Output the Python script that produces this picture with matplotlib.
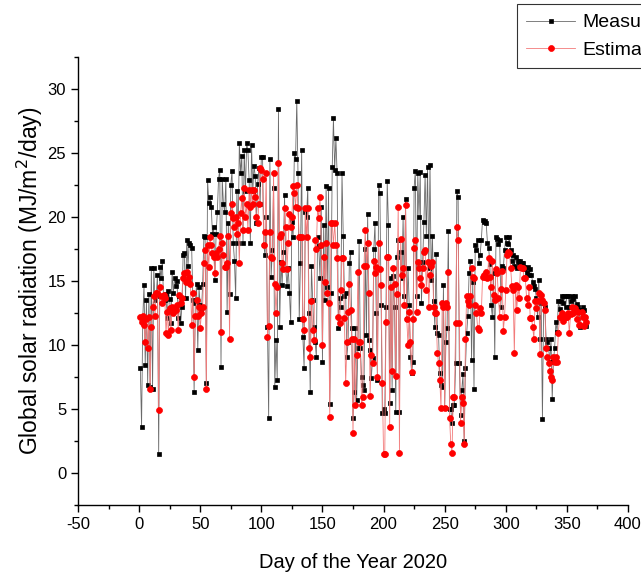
import matplotlib
matplotlib.use("Agg")
import matplotlib.pyplot as plt
from matplotlib.ticker import MultipleLocator
import numpy as np

plt.rcParams['font.family'] = ['Liberation Sans', 'DejaVu Sans']
plt.rcParams['axes.unicode_minus'] = False

measured = [
    8.2, 3.6, 12.1, 14.7, 8.4, 13.5, 6.9, 14.0, 6.7, 16.0,
    6.6, 16.0, 13.5, 13.8, 15.5, 1.5, 16.1, 15.2, 16.6, 13.6,
    13.5, 14.0, 12.1, 14.2, 13.6, 11.7, 15.7, 14.1, 15.2, 14.6,
    15.0, 12.1, 13.8, 11.7, 13.0, 17.0, 17.2, 13.7, 18.2, 16.2,
    18.0, 17.8, 17.6, 13.5, 6.3, 13.3, 14.8, 9.6, 14.5, 13.1,
    12.6, 14.8, 18.5, 18.4, 7.0, 22.9, 21.1, 21.6, 20.8, 18.7,
    19.2, 15.1, 18.7, 20.4, 23.0, 23.7, 8.3, 23.0, 21.0, 20.4,
    23.0, 12.6, 19.5, 14.0, 22.5, 23.6, 18.0, 16.6, 13.7, 22.0,
    18.0, 25.8, 23.4, 24.8, 18.0, 25.2, 22.0, 25.8, 25.2, 22.9,
    18.0, 25.6, 22.0, 24.0, 23.2, 19.5, 22.6, 23.8, 21.0, 24.7,
    24.7, 17.8, 17.0, 20.0, 11.4, 4.3, 24.5, 15.3, 17.4, 22.3,
    6.7, 10.4, 7.3, 28.4, 11.4, 16.5, 14.7, 17.3, 21.7, 15.9,
    14.6, 16.0, 14.1, 11.8, 19.6, 18.4, 25.0, 24.5, 29.1, 23.4,
    12.0, 16.4, 25.2, 10.6, 8.2, 20.4, 20.0, 22.3, 12.5, 6.3,
    16.2, 13.5, 11.4, 10.2, 9.1, 18.4, 17.7, 15.2, 20.8, 8.7,
    19.4, 13.5, 22.4, 14.5, 22.3, 5.4, 14.1, 23.9, 27.7, 23.7,
    26.2, 23.4, 11.3, 13.7, 13.0, 23.4, 18.5, 13.8, 14.1, 9.1,
    10.2, 16.4, 17.3, 11.3, 4.3, 6.3, 11.3, 5.7, 9.8, 18.1,
    9.8, 7.5, 6.9, 6.5, 17.5, 10.8, 20.2, 10.4, 9.6, 7.4,
    9.0, 17.5, 19.5, 12.5, 7.3, 22.5, 21.9, 13.1, 4.7, 5.0,
    4.7, 13.0, 22.8, 19.4, 5.5, 15.2, 6.5, 15.4, 13.0, 4.8,
    16.9, 18.2, 4.8, 17.3, 15.2, 20.0, 13.8, 21.4, 12.0, 16.0,
    13.1, 9.1, 7.8, 8.7, 22.3, 23.6, 13.8, 23.4, 20.0, 23.5,
    13.3, 16.5, 19.6, 23.3, 18.5, 23.9, 16.0, 24.1, 15.1, 18.5,
    13.4, 11.4, 17.1, 10.9, 10.8, 7.8, 6.9, 6.7, 14.7, 5.1,
    10.2, 11.3, 18.9, 5.0, 5.0, 3.9, 5.3, 5.3, 8.6, 22.0,
    21.6, 8.6, 4.5, 6.5, 7.7, 2.5, 8.2, 10.9, 12.3, 15.6,
    16.6, 8.8, 14.9, 6.6, 17.8, 17.4, 18.2, 16.4, 17.0, 18.2,
    19.8, 19.6, 19.7, 19.5, 18.0, 17.6, 16.3, 13.1, 12.2, 15.6,
    9.1, 18.4, 18.3, 17.9, 18.2, 13.0, 16.2, 16.0, 17.4, 18.4,
    18.0, 17.9, 18.4, 17.4, 16.6, 17.0, 16.2, 16.9, 16.0, 16.6,
    16.4, 16.6, 16.4, 16.4, 16.1, 15.9, 15.6, 16.1, 15.5, 15.9,
    15.5, 14.9, 14.6, 14.4, 13.7, 12.2, 15.1, 10.5, 13.3, 4.2,
    13.3, 13.0, 10.5, 10.2, 9.8, 8.7, 10.5, 5.8, 8.7, 9.8,
    11.8, 11.0, 13.4, 12.8, 13.4, 13.8, 13.3, 13.8, 13.0, 13.8,
    13.8, 13.0, 13.4, 13.8, 13.6, 12.6, 13.8, 13.2, 13.0, 12.7,
    11.4, 12.7, 13.0, 12.7, 12.2, 11.5,
]

estimated = [
    12.2, 11.8, 12.3, 11.6, 10.2, 12.0, 9.8, 12.2, 6.6, 11.4,
    13.0, 13.8, 12.3, 14.1, 14.1, 4.9, 14.5, 13.8, 13.3, 13.9,
    13.7, 10.9, 12.6, 10.8, 12.9, 11.2, 13.0, 12.5, 12.8, 12.7,
    13.1, 11.2, 13.9, 13.3, 13.7, 15.2, 15.6, 14.9, 15.7, 15.0,
    15.3, 14.8, 11.6, 14.1, 7.5, 12.3, 13.5, 12.3, 13.0, 11.3,
    12.5, 13.0, 16.4, 17.4, 6.6, 17.8, 16.1, 18.4, 17.8, 17.2,
    16.9, 15.6, 17.2, 16.9, 17.5, 18.5, 11.0, 18.0, 17.0, 16.1,
    16.1, 16.4, 18.5, 10.5, 20.3, 21.0, 19.9, 19.2, 20.0, 18.7,
    19.5, 16.4, 20.3, 21.5, 19.0, 22.3, 20.0, 21.0, 19.0, 22.1,
    20.8, 22.1, 21.0, 22.1, 21.6, 20.0, 19.5, 21.0, 23.8, 23.7,
    23.0, 17.8, 18.8, 23.4, 10.6, 11.5, 18.8, 16.9, 16.8, 23.4,
    14.8, 12.5, 14.5, 24.2, 18.4, 18.7, 16.4, 15.9, 20.7, 19.2,
    15.9, 18.0, 20.2, 19.2, 20.0, 22.4, 21.9, 20.8, 22.5, 20.7,
    18.4, 18.4, 18.4, 12.0, 11.2, 20.7, 18.4, 20.7, 9.8, 9.1,
    13.4, 11.2, 10.4, 18.2, 17.5, 20.7, 19.9, 21.6, 17.8, 10.0,
    16.9, 14.9, 18.0, 14.1, 13.3, 4.4, 19.5, 19.5, 17.8, 19.5,
    17.8, 16.8, 12.2, 11.7, 14.3, 16.8, 16.8, 12.1, 7.0, 10.2,
    12.6, 14.8, 12.7, 10.5, 3.1, 10.5, 5.3, 9.2, 15.7, 10.2,
    10.2, 5.3, 5.9, 16.2, 19.0, 16.2, 18.0, 14.1, 6.0, 9.2,
    8.6, 16.6, 15.6, 16.1, 7.5, 18.0, 15.9, 14.7, 7.0, 1.5,
    1.5, 11.8, 16.9, 16.9, 3.6, 14.5, 8.0, 16.0, 14.8, 7.6,
    14.0, 20.8, 1.6, 18.3, 15.5, 16.0, 13.1, 20.9, 12.0, 10.0,
    12.6, 10.2, 7.9, 12.0, 17.6, 18.2, 12.6, 16.5, 16.0, 15.2,
    14.7, 16.0, 17.3, 17.4, 14.3, 16.5, 13.0, 15.5, 16.2, 16.5,
    13.0, 12.5, 12.5, 9.4, 8.6, 7.3, 5.1, 13.3, 13.0, 5.1,
    13.3, 13.0, 15.7, 4.3, 2.3, 1.6, 5.9, 5.9, 11.7, 19.2,
    18.2, 11.7, 3.9, 5.9, 5.5, 2.3, 10.5, 13.8, 13.4, 13.1,
    13.8, 16.0, 15.3, 15.2, 13.1, 12.5, 11.3, 11.2, 12.9, 12.5,
    15.3, 15.5, 15.3, 15.7, 15.2, 16.8, 15.3, 14.5, 16.6, 13.9,
    13.5, 15.9, 15.6, 13.7, 12.2, 14.4, 15.8, 11.1, 12.2, 14.3,
    17.0, 17.3, 17.2, 16.0, 14.6, 14.3, 9.4, 14.7, 12.7, 14.5,
    13.7, 16.1, 16.0, 16.0, 15.2, 15.2, 13.7, 13.1, 14.5, 12.1,
    12.1, 11.4, 10.5, 13.4, 12.9, 13.4, 14.1, 9.3, 13.9, 13.5,
    13.3, 12.7, 9.8, 9.1, 8.6, 8.0, 7.5, 7.3, 9.1, 8.7,
    9.1, 8.7, 10.9, 12.2, 12.2, 12.5, 11.9, 12.2, 12.2, 12.2,
    12.5, 10.9, 12.4, 13.0, 12.5, 12.9, 12.9, 12.0, 12.6, 11.6,
    11.6, 12.6, 12.2, 11.5, 12.2, 11.8,
]

days_m = np.arange(1, len(measured) + 1)
days_e = np.arange(1, len(estimated) + 1)

fig = plt.figure(figsize=(6.41, 5.76), dpi=100)
ax = fig.add_axes([0.1217, 0.1233, 0.8580, 0.7777])

ax.plot(days_m, measured, color='#6a6a6a', lw=0.6, marker='s', ms=3.4,
        mfc='black', mec='black', mew=0.5, label='Measured', zorder=2)
ax.plot(days_e, estimated, color='#f27a7a', lw=0.6, marker='o', ms=4.3,
        mfc='red', mec='red', mew=0.5, label='Estimated', zorder=3)

ax.set_xlim(-50, 400)
ax.set_ylim(-2.5, 32.5)
ax.xaxis.set_major_locator(MultipleLocator(50))
ax.xaxis.set_minor_locator(MultipleLocator(25))
ax.yaxis.set_major_locator(MultipleLocator(5))
ax.yaxis.set_minor_locator(MultipleLocator(2.5))
ax.tick_params(which='major', direction='out', length=5, width=1, labelsize=12)
ax.tick_params(which='minor', direction='out', length=3, width=1)
for s in ['top', 'right']:
    ax.spines[s].set_visible(False)
for s in ['left', 'bottom']:
    ax.spines[s].set_linewidth(1)

ax.set_xlabel('Day of the Year 2020', fontsize=14.5, labelpad=15)
ax.set_ylabel('Global solar radiation (MJ/m$^2$/day)', fontsize=16.5, labelpad=2)

leg = fig.legend(loc='upper left', bbox_to_anchor=(0.806, 0.993), frameon=True,
                 fancybox=False, edgecolor='black', fontsize=14,
                 handlelength=2.5, borderpad=0.5, labelspacing=0.5,
                 handletextpad=0.4, borderaxespad=0.0)
leg.get_frame().set_linewidth(0.8)

fig.savefig('out.png', dpi=100)
